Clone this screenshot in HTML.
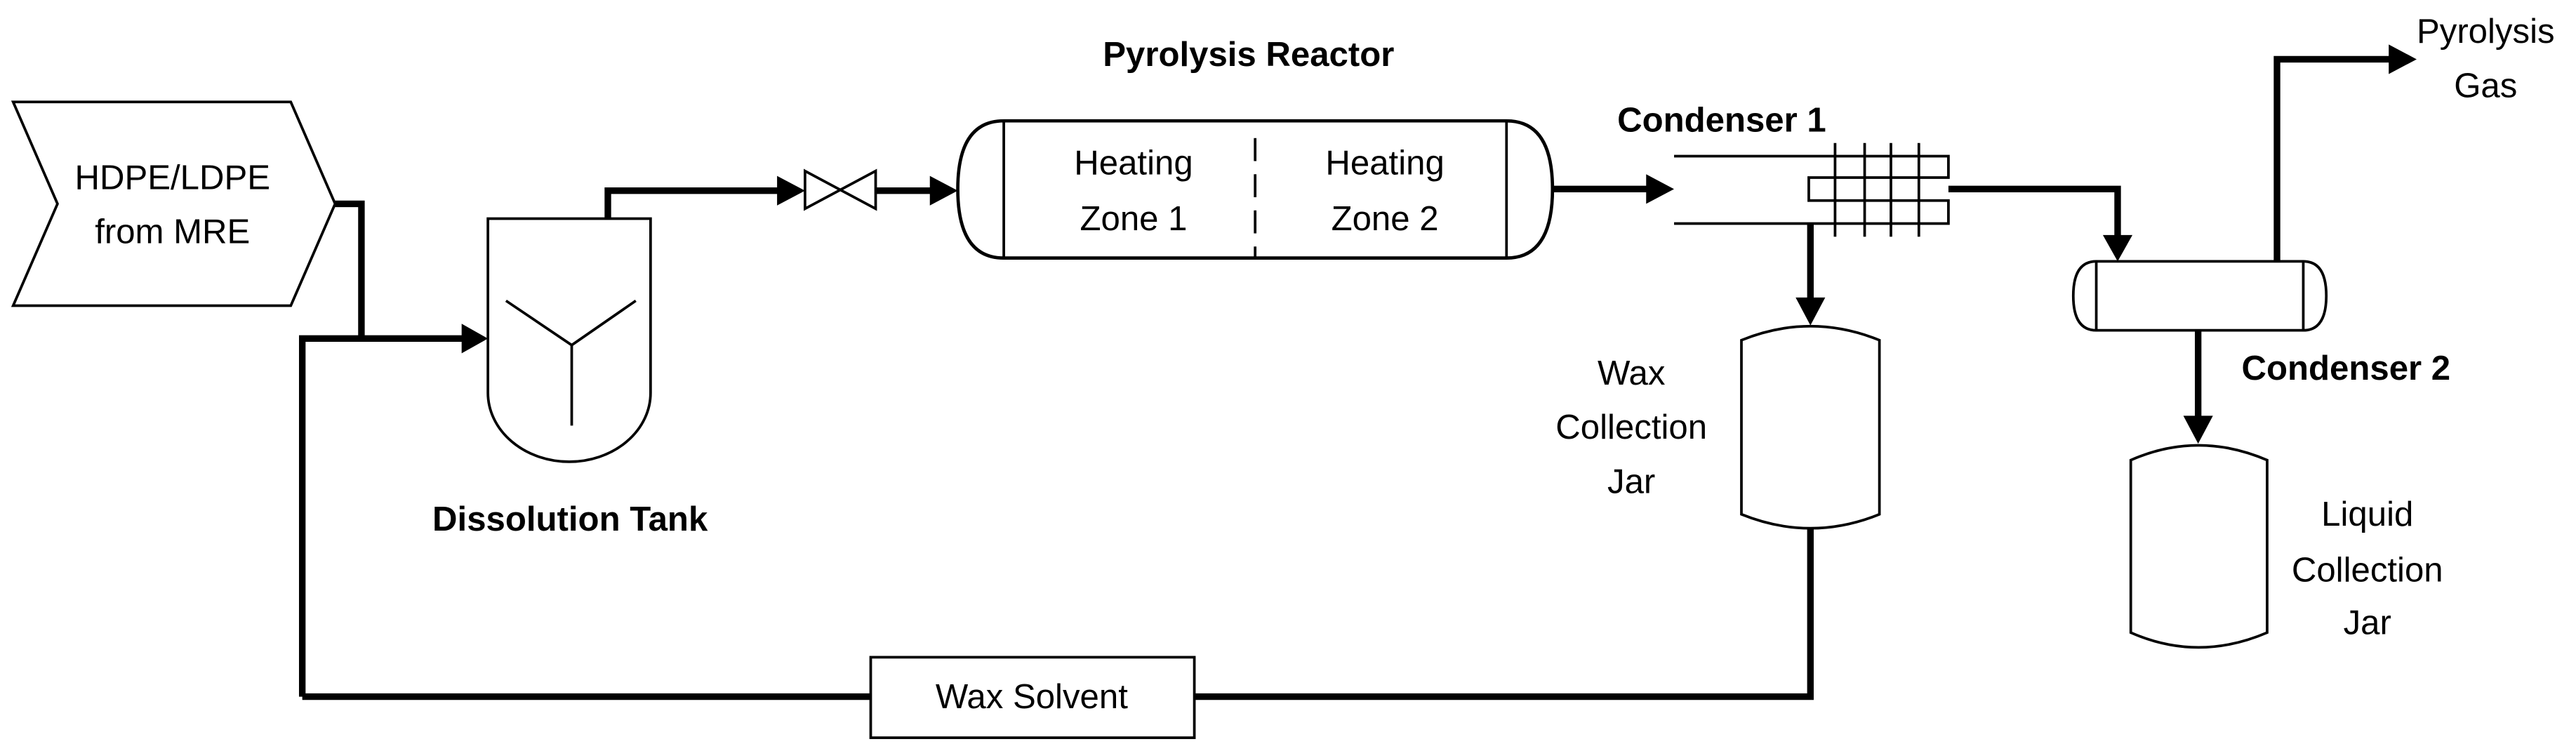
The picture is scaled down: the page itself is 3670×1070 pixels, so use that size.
<!DOCTYPE html>
<html><head><meta charset="utf-8"><style>
html,body{margin:0;padding:0;background:#fff;}
svg{display:block;}
text{font-family:"Liberation Sans",sans-serif;fill:#000;}
.b{font-weight:bold;}
</style></head><body>
<svg width="3670" height="1070" viewBox="0 0 1568 457" xmlns="http://www.w3.org/2000/svg">
<g fill="none" stroke="#000" stroke-width="1.6">
  <polygon points="8,62 177,62 204,124 177,186 8,186 35,124" fill="#fff"/>
  <path d="M297,239 L297,133 L396,133 L396,239 A49.5,42 0 0 1 297,239 Z"/>
  <path d="M308,183 L348,210 L387,183 M348,210 L348,259"/>
  <polygon points="490,104 533,127 533,104 490,127"/>
  <path d="M611,73.5 L917,73.5 Q945,73.5 945,115 Q945,157 917,157 L611,157 Q583,157 583,115 Q583,73.5 611,73.5 Z" stroke-width="2"/>
  <line x1="611" y1="73.5" x2="611" y2="157"/>
  <line x1="917" y1="73.5" x2="917" y2="157"/>
  <line x1="764" y1="84" x2="764" y2="157" stroke-dasharray="14,8"/>
  <path d="M1019,95 L1186,95 L1186,108 L1101,108 L1101,122 L1186,122 L1186,136 L1019,136"/>
  <path d="M1117,87 V144 M1135,87 V144 M1151,87 V144 M1168,87 V144"/>
  <path d="M1060,207 Q1102,190 1144,207 L1144,313 Q1102,330 1060,313 Z"/>
  <path d="M1276,159 L1402,159 Q1416,159 1416,180 Q1416,201 1402,201 L1276,201 Q1262,201 1262,180 Q1262,159 1276,159 Z"/>
  <line x1="1276" y1="159" x2="1276" y2="201"/>
  <line x1="1402" y1="159" x2="1402" y2="201"/>
  <path d="M1297,280 Q1338,262 1380,280 L1380,385 Q1338,403 1297,385 Z"/>
  <rect x="530" y="400" width="197" height="49"/>
</g>
<g fill="none" stroke="#000" stroke-width="4">
  <polyline points="204,124 220,124 220,206"/>
  <polyline points="184,424 184,206 283,206"/>
  <polyline points="370,133 370,116 474,116"/>
  <line x1="533" y1="116" x2="570" y2="116"/>
  <line x1="945" y1="115" x2="1003" y2="115"/>
  <polyline points="1186,115 1289,115 1289,146"/>
  <line x1="1102" y1="136" x2="1102" y2="183"/>
  <polyline points="1102,322 1102,424 727,424"/>
  <line x1="530" y1="424" x2="184" y2="424"/>
  <polyline points="1386,159 1386,36 1456,36"/>
  <line x1="1338" y1="201" x2="1338" y2="255"/>
</g>
<g fill="#000">
  <polygon points="297,206 281,197 281,215"/>
  <polygon points="490,116 473,107 473,125"/>
  <polygon points="583,116 566,107 566,125"/>
  <polygon points="1019,115 1002,106 1002,124"/>
  <polygon points="1102,198 1093,181 1111,181"/>
  <polygon points="1289,159 1280,143 1298,143"/>
  <polygon points="1471,36 1454,27 1454,45"/>
  <polygon points="1338,270 1329,253 1347,253"/>
</g>
<g font-size="21" text-anchor="middle">
  <text x="105" y="115">HDPE/LDPE</text>
  <text x="105" y="148">from MRE</text>
  <text x="690" y="106">Heating</text>
  <text x="690" y="140">Zone 1</text>
  <text x="843" y="106">Heating</text>
  <text x="843" y="140">Zone 2</text>
  <text x="993" y="234">Wax</text>
  <text x="993" y="267">Collection</text>
  <text x="993" y="300">Jar</text>
  <text x="628" y="431">Wax Solvent</text>
  <text x="1513" y="26">Pyrolysis</text>
  <text x="1513" y="59">Gas</text>
  <text x="1441" y="320">Liquid</text>
  <text x="1441" y="354">Collection</text>
  <text x="1441" y="386">Jar</text>
</g>
<g font-size="21" text-anchor="middle">
  <text class="b" x="347" y="323">Dissolution Tank</text>
  <text class="b" x="760" y="40">Pyrolysis Reactor</text>
  <text class="b" x="1048" y="80">Condenser 1</text>
  <text class="b" x="1428" y="231">Condenser 2</text>
</g>
</svg>
</body></html>
